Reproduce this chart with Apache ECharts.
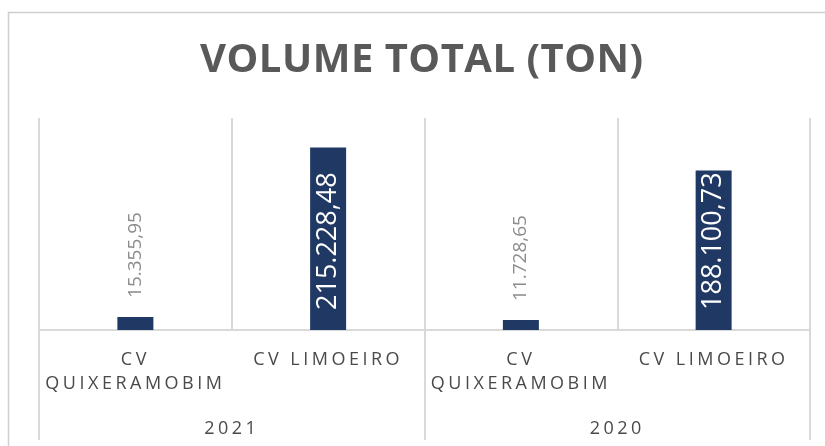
<!DOCTYPE html>
<html>
<head>
<meta charset="utf-8">
<style>
  html, body { margin: 0; padding: 0; background: #fff; }
  #chart { width: 825px; height: 446px; }
</style>
<script src="https://cdn.jsdelivr.net/npm/echarts@6/dist/echarts.min.js"></script>
</head>
<body>
<div id="chart"></div>
<script>
// dados
var anos = ['2021', '2020'];
var categorias = ['CV\nQUIXERAMOBIM', 'CV LIMOEIRO', 'CV\nQUIXERAMOBIM', 'CV LIMOEIRO'];
var volumes = [15355.95, 215228.48, 11728.65, 188100.73];

// formato brasileiro 215.228,48
function fmt(v) {
    var p = v.toFixed(2).split('.');
    return p[0].replace(/\B(?=(\d{3})+(?!\d))/g, '.') + ',' + p[1];
}

// espaçamento entre letras dos rótulos do eixo (como no Excel)
var fillText0 = CanvasRenderingContext2D.prototype.fillText;
CanvasRenderingContext2D.prototype.fillText = function (t, x, y, w) {
    if ('letterSpacing' in this) {
        var f = ' ' + this.font + ' ';
        this.letterSpacing = / 18px /.test(f) ? '3.5px' : (/ 40px /.test(f) ? '0.5px' : '0px');
    }
    return w === undefined ? fillText0.call(this, t, x, y) : fillText0.call(this, t, x, y, w);
};

var chart = echarts.init(document.getElementById('chart'));

var option = {
    backgroundColor: '#fff',
    animation: false,
    title: {
        text: 'VOLUME TOTAL (TON)',
        left: 195,
        top: 36,
        textStyle: {
            fontFamily: 'Open Sans',
            fontSize: 40,
            fontWeight: 'bold',
            color: '#595959'
        }
    },
    graphic: [{
        type: 'rect',
        shape: { x: 8.5, y: 12.5, width: 900, height: 500 },
        style: { fill: 'none', stroke: '#cfcfcf', lineWidth: 1.5 },
        silent: true
    }],
    grid: { left: 39, right: 15, top: 118, bottom: 116 },
    xAxis: [{
        type: 'category',
        data: categorias,
        position: 'bottom',
        axisLine: { lineStyle: { color: '#d9d9d9', width: 2 } },
        axisTick: { show: false },
        splitLine: { show: true, lineStyle: { color: '#d9d9d9', width: 2 } },
        axisLabel: {
            interval: 0,
            margin: 18,
            fontFamily: 'Open Sans',
            fontSize: 18,
            lineHeight: 24,
            color: '#4a4a4a'
        }
    }, {
        type: 'category',
        data: anos,
        position: 'bottom',
        axisLine: { show: false },
        axisTick: { show: true, length: 110, lineStyle: { color: '#d9d9d9', width: 2 } },
        splitLine: { show: false },
        axisLabel: {
            margin: 90,
            fontFamily: 'Open Sans',
            fontSize: 18,
            color: '#4a4a4a'
        }
    }],
    yAxis: {
        type: 'value',
        min: 0,
        max: 250000,
        show: false,
        splitLine: { show: false }
    },
    series: [{
        type: 'bar',
        barWidth: 36,
        itemStyle: { color: '#203864' },
        data: volumes.map(function (v) {
            var grande = v > 100000;
            return {
                value: v,
                label: grande ? {
                    show: true,
                    position: 'insideBottom',
                    distance: 20,
                    rotate: 90,
                    align: 'left',
                    verticalAlign: 'middle',
                    fontFamily: 'Open Sans',
                    fontSize: 27,
                    color: '#ffffff'
                } : {
                    show: true,
                    position: 'top',
                    distance: 19,
                    rotate: 90,
                    align: 'left',
                    verticalAlign: 'middle',
                    fontFamily: 'Open Sans',
                    fontSize: 19,
                    color: '#8c8c8c'
                }
            };
        }),
        label: {
            formatter: function (p) { return fmt(p.value); }
        }
    }]
};

chart.setOption(option);
</script>
</body>
</html>
